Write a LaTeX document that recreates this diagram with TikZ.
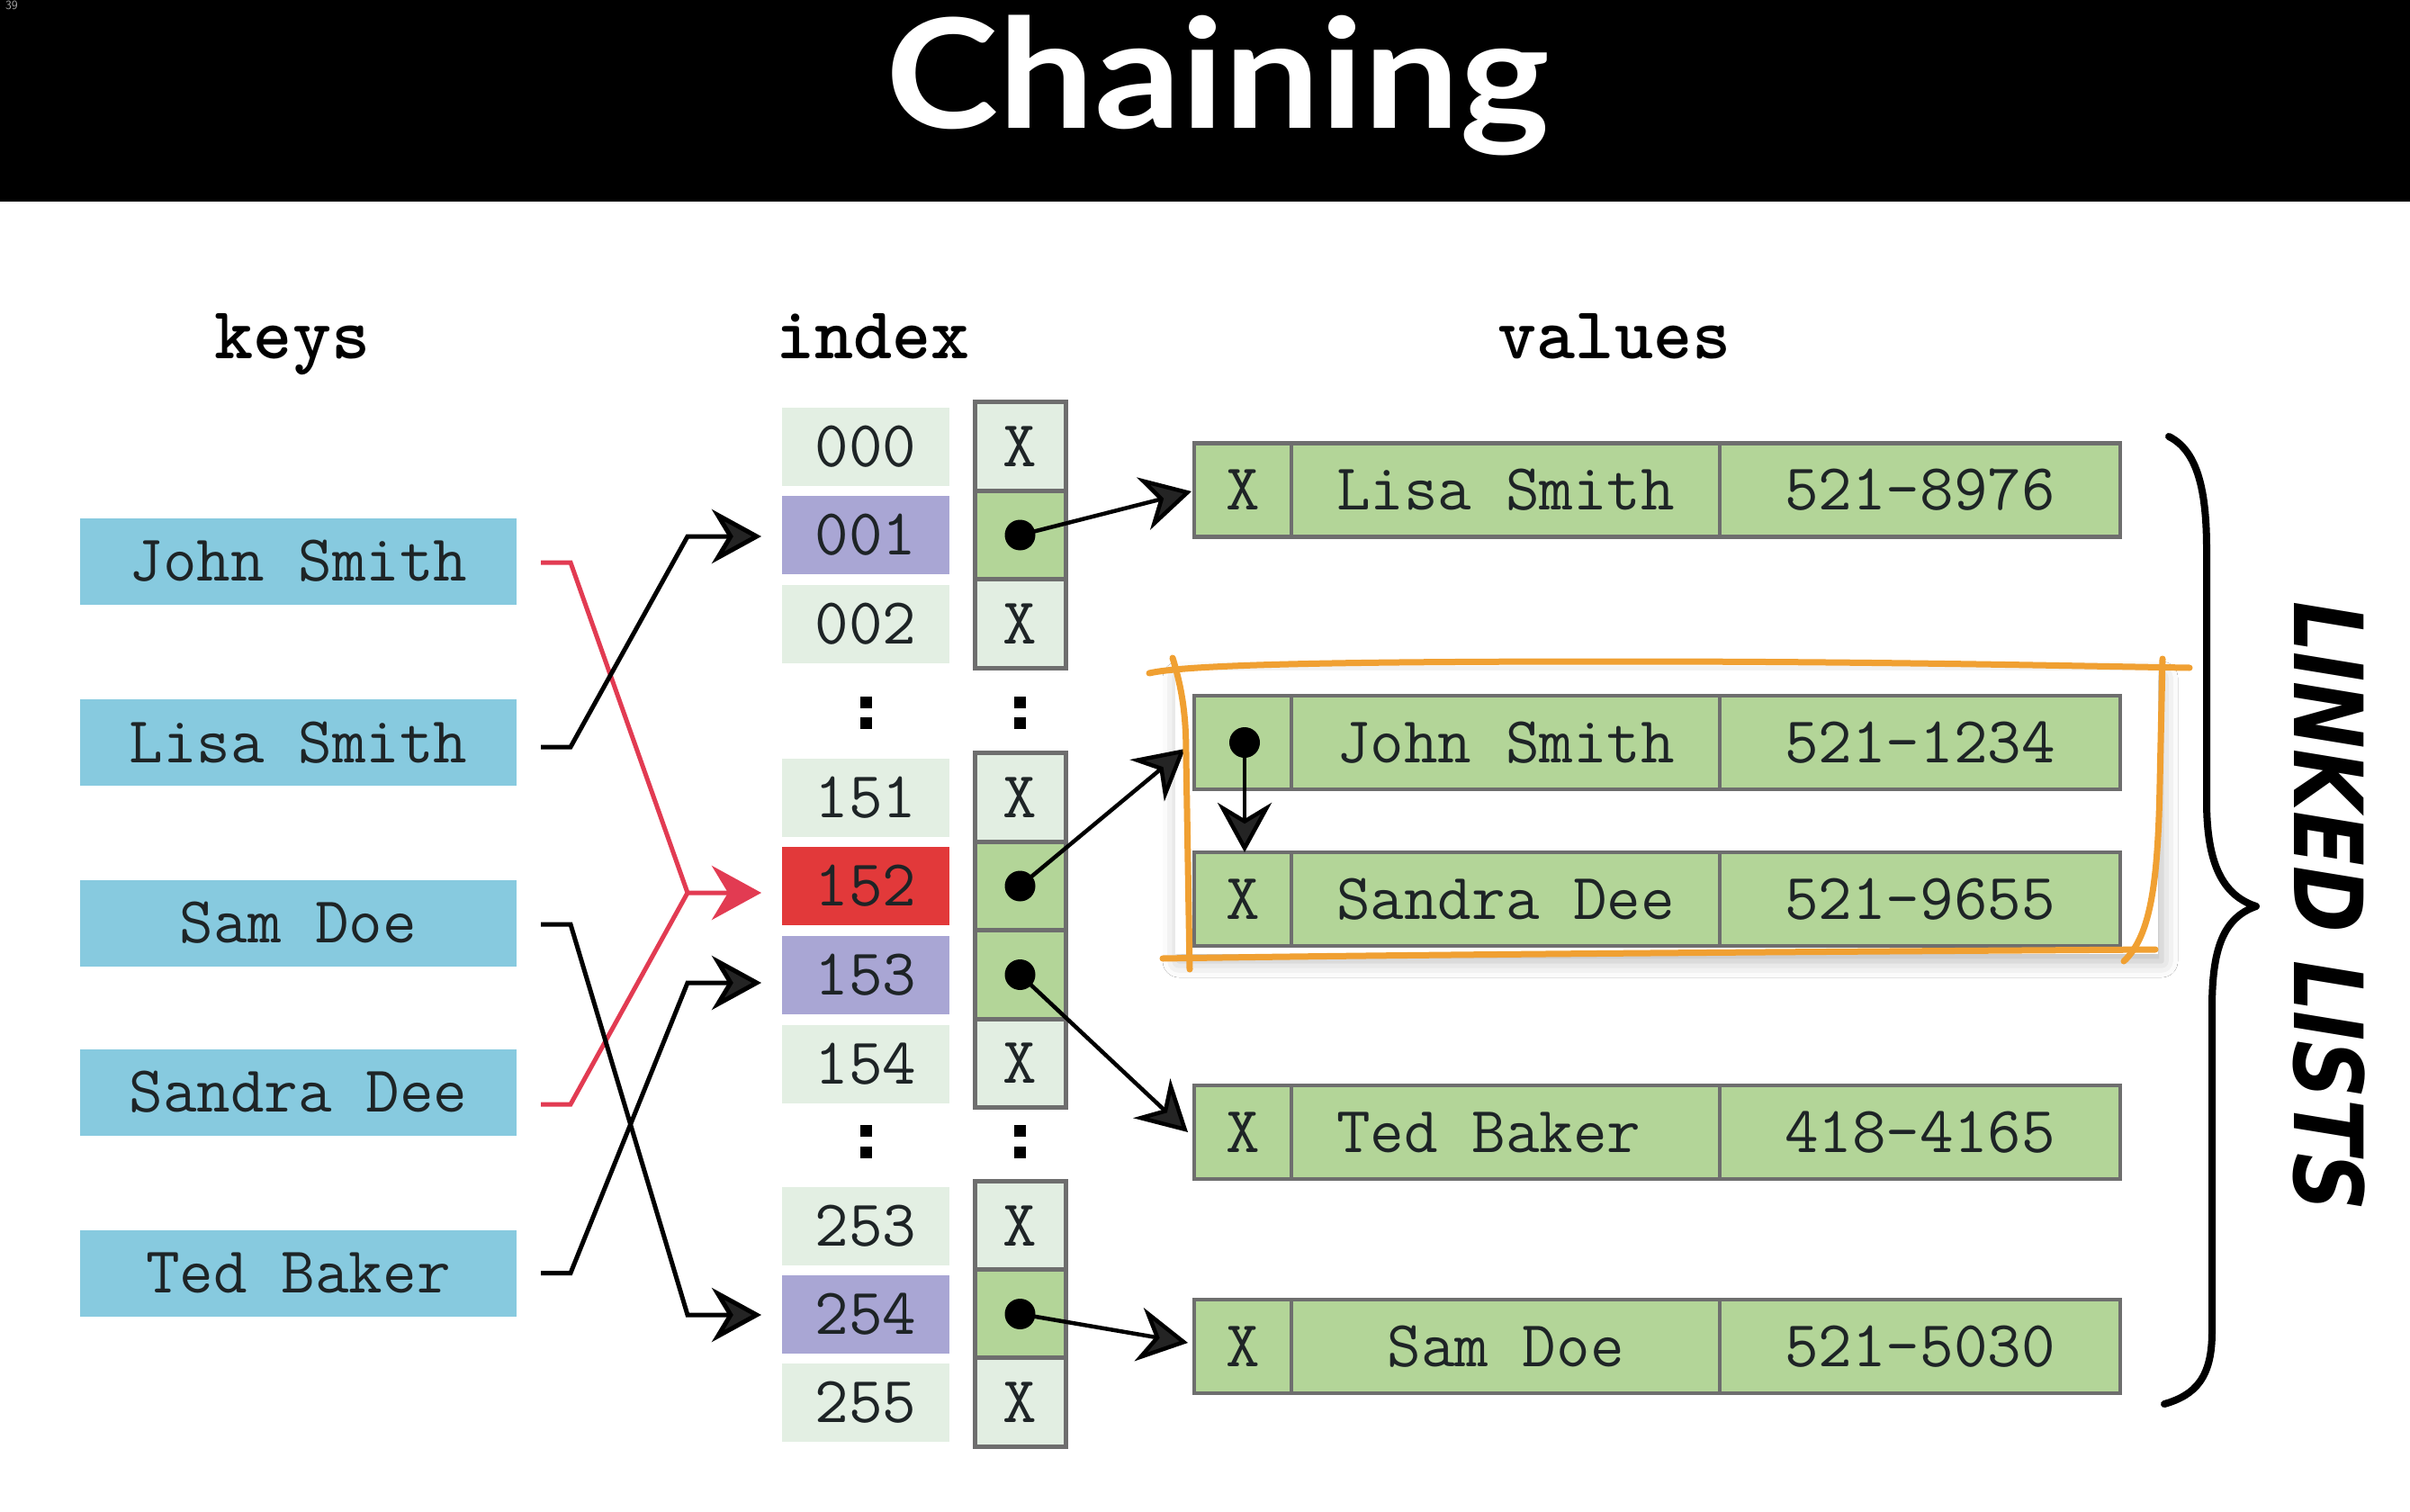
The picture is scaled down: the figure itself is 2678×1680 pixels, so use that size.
\documentclass[tikz,border=0pt]{standalone}
\usepackage{fontspec}
\newfontfamily\titlefont{Lato}
\newfontfamily\handfont{DejaVu Sans}
\usetikzlibrary{arrows.meta,shadows.blur}
\definecolor{keyblue}{HTML}{87CADF}
\definecolor{idxlight}{HTML}{E3EFE3}
\definecolor{idxpurple}{HTML}{A9A6D4}
\definecolor{idxred}{HTML}{E2393A}
\definecolor{ptrlight}{HTML}{E2EEE2}
\definecolor{cellgray}{HTML}{6E6E6E}
\definecolor{vgreen}{HTML}{B3D598}
\definecolor{orng}{HTML}{F0A032}
\definecolor{kred}{HTML}{E23B52}
\definecolor{txt}{HTML}{1E2426}
\begin{document}
\begin{tikzpicture}[x=1pt,y=-1pt,
  every node/.style={inner sep=0pt, outer sep=0pt},
  monotext/.style={font=\ttfamily\fontsize{73}{80}\selectfont, text=txt},
  keybox/.style={monotext, fill=keyblue, minimum width=485pt, minimum height=96pt},
  idx/.style={monotext, fill=idxlight, minimum width=186pt, minimum height=87pt},
  ptr/.style={monotext, fill=ptrlight, draw=cellgray, line width=5pt, minimum width=101pt, minimum height=98.5pt},
  ptrg/.style={ptr, fill=vgreen},
  vcell/.style={monotext, fill=vgreen, draw=cellgray, line width=4.5pt, minimum height=104pt},
  hdr/.style={font=\ttfamily\bfseries\fontsize{82}{90}\selectfont, anchor=base, text=black},
  conn/.style={line width=5pt, -{Stealth[length=55pt,width=60pt,inset=18pt]}},
  dotn/.style={circle, fill=black, minimum size=34pt},
  sq/.style={fill=black, minimum size=13pt},
  orangeline/.style={draw=orng, line width=7pt, line cap=round},
]
\useasboundingbox (0,0) rectangle (2678,1680);
\fill[white] (0,0) rectangle (2678,1680);
\fill[black] (0,0) rectangle (2678,224);
\node[anchor=north west, font=\sffamily\fontsize{14}{14}\selectfont, text=gray!70] (pg) at (6,1) {39};
\node[font=\titlefont\bfseries\fontsize{169}{180}\selectfont, text=white, anchor=base] (title) at (1353,143) {\scalebox{1.12}[1]{Chaining}};

% headers
\node[hdr] (hKeys) at (325,398) {keys};
\node[hdr] (hIndex) at (970,398) {index};
\node[hdr] (hValues) at (1794,398) {values};

% keys
\node[keybox] (kJohn) at (331.5,623.5) {John Smith};
\node[keybox] (kLisa) at (331.5,825) {Lisa Smith};
\node[keybox] (kSam) at (331.5,1025.5) {Sam Doe};
\node[keybox] (kSandra) at (331.5,1213.5) {Sandra Dee};
\node[keybox] (kTed) at (331.5,1414.5) {Ted Baker};

% index column
\node[idx] (i000) at (962,496) {000};
\node[idx, fill=idxpurple] (i001) at (962,594.5) {001};
\node[idx] (i002) at (962,693) {002};
\node[idx] (i151) at (962,886) {151};
\node[idx, fill=idxred] (i152) at (962,984.5) {152};
\node[idx, fill=idxpurple] (i153) at (962,1083) {153};
\node[idx] (i154) at (962,1182) {154};
\node[idx] (i253) at (962,1362) {253};
\node[idx, fill=idxpurple] (i254) at (962,1460) {254};
\node[idx] (i255) at (962,1558) {255};
\node[sq] (ca1) at (962,780) {};
\node[sq] (ca2) at (962,803) {};
\node[sq] (cb1) at (962,1256) {};
\node[sq] (cb2) at (962,1280) {};

% pointer column
\node[ptr] (p000) at (1133.5,496) {X};
\node[ptrg] (p001) at (1133.5,594.5) {};
\node[ptr] (p002) at (1133.5,693) {X};
\node[ptr] (p151) at (1133.5,886) {X};
\node[ptrg] (p152) at (1133.5,984.5) {};
\node[ptrg] (p153) at (1133.5,1083) {};
\node[ptr] (p154) at (1133.5,1181.5) {X};
\node[ptr] (p253) at (1133.5,1362) {X};
\node[ptrg] (p254) at (1133.5,1460) {};
\node[ptr] (p255) at (1133.5,1558) {X};
\node[sq] (cc1) at (1133.5,780) {};
\node[sq] (cc2) at (1133.5,803) {};
\node[sq] (cd1) at (1133.5,1256) {};
\node[sq] (cd2) at (1133.5,1280) {};
\node[dotn] (d001) at (p001.center) {};
\node[dotn] (d152) at (p152.center) {};
\node[dotn] (d153) at (p153.center) {};
\node[dotn] (d254) at (p254.center) {};

% shadow of highlighted group
\fill[white, blur shadow={shadow xshift=4pt, shadow yshift=-8pt, shadow blur radius=18pt, shadow opacity=28}] (1306,745) rectangle (2398,1060);

% value rows
\node[vcell, minimum width=108pt] (vLisaP) at (1381,544.5) {X};
\node[vcell, minimum width=476pt] (vLisaN) at (1673,544.5) {Lisa Smith};
\node[vcell, minimum width=445pt] (vLisaT) at (2133.5,544.5) {521-8976};

\node[vcell, minimum width=108pt] (vJohnP) at (1381,825) {};
\node[vcell, minimum width=476pt] (vJohnN) at (1673,825) {John Smith};
\node[vcell, minimum width=445pt] (vJohnT) at (2133.5,825) {521-1234};

\node[vcell, minimum width=108pt] (vSandraP) at (1381,999) {X};
\node[vcell, minimum width=476pt] (vSandraN) at (1673,999) {Sandra Dee};
\node[vcell, minimum width=445pt] (vSandraT) at (2133.5,999) {521-9655};

\node[vcell, minimum width=108pt] (vTedP) at (1381,1258) {X};
\node[vcell, minimum width=476pt] (vTedN) at (1673,1258) {Ted Baker\hphantom{r}};
\node[vcell, minimum width=445pt] (vTedT) at (2133.5,1258) {418-4165};

\node[vcell, minimum width=108pt] (vSamP) at (1381,1496) {X};
\node[vcell, minimum width=476pt] (vSamN) at (1673,1496) {Sam Doe\hspace{0.3em}};
\node[vcell, minimum width=445pt] (vSamT) at (2133.5,1496) {521-5030};

\node[dotn] (dJohn) at (1383,825) {};

% key connectors
\draw[conn, color=kred] ([xshift=27pt,yshift=-1.5pt]kJohn.east) -- ++(33,0)
   -- ([xshift=-105pt,yshift=-7.5pt]i152.west) -- ([xshift=-23pt,yshift=-7.5pt]i152.west);
\draw[line width=5pt, color=kred] ([xshift=27pt,yshift=-13.5pt]kSandra.east) -- ++(33,0)
   -- ([xshift=-105pt,yshift=-7.5pt]i152.west);
\draw[conn] ([xshift=27pt,yshift=-5pt]kLisa.east) -- ++(33,0)
   -- ([xshift=-105pt,yshift=-1.5pt]i001.west) -- ([xshift=-23pt,yshift=-1.5pt]i001.west);
\draw[conn] ([xshift=27pt,yshift=-1.5pt]kSam.east) -- ++(33,0)
   -- ([xshift=-105pt,yshift=-1pt]i254.west) -- ([xshift=-23pt,yshift=-1pt]i254.west);
\draw[conn] ([xshift=27pt]kTed.east) -- ++(33,0)
   -- ([xshift=-105pt,yshift=-9pt]i153.west) -- ([xshift=-23pt,yshift=-9pt]i153.west);

% pointer connectors
\draw[conn, line width=4.5pt] (d001.center) -- ([xshift=-3pt,yshift=-1.5pt]vLisaP.west);
\draw[conn, line width=4.5pt] (d152.center) -- ([xshift=-10pt,yshift=-7pt]vJohnP.west);
\draw[conn, line width=4.5pt] (d153.center) -- ([xshift=-7pt]vTedP.west);
\draw[conn, line width=4.5pt] (d254.center) -- ([xshift=-7pt,yshift=4pt]vSamP.west);
\draw[conn, line width=4.5pt] (dJohn.center) -- ([xshift=2pt]vSandraP.north);

% orange hand-drawn frame
\draw[orangeline] (1277,748) .. controls (1320,738) and (1500,735) .. (1800,735)
   .. controls (2100,735) and (2300,740) .. (2433,742);
\draw[orangeline] (1303,731) .. controls (1315,770) and (1318,800) .. (1318,840) -- (1322,1077);
\draw[orangeline] (1292,1065) .. controls (1600,1060) and (2100,1057) .. (2395,1055);
\draw[orangeline] (2403,732) -- (2400,870) .. controls (2398,980) and (2390,1040) .. (2360,1068);

% brace
\draw[line width=8pt, line cap=round, line join=round] (2410,485) .. controls (2440,500) and (2452,540) .. (2452,610)
  -- (2452,890) .. controls (2452,960) and (2470,995) .. (2507,1007)
  .. controls (2470,1020) and (2458,1055) .. (2458,1120)
  -- (2458,1480) .. controls (2458,1530) and (2440,1550) .. (2405,1560);

\node[rotate=-90, font=\handfont\bfseries\itshape\fontsize{106}{110}\selectfont] (ll) at (2588,1007) {\scalebox{0.84}[1]{LINKED LISTS}};
\end{tikzpicture}
\end{document}
